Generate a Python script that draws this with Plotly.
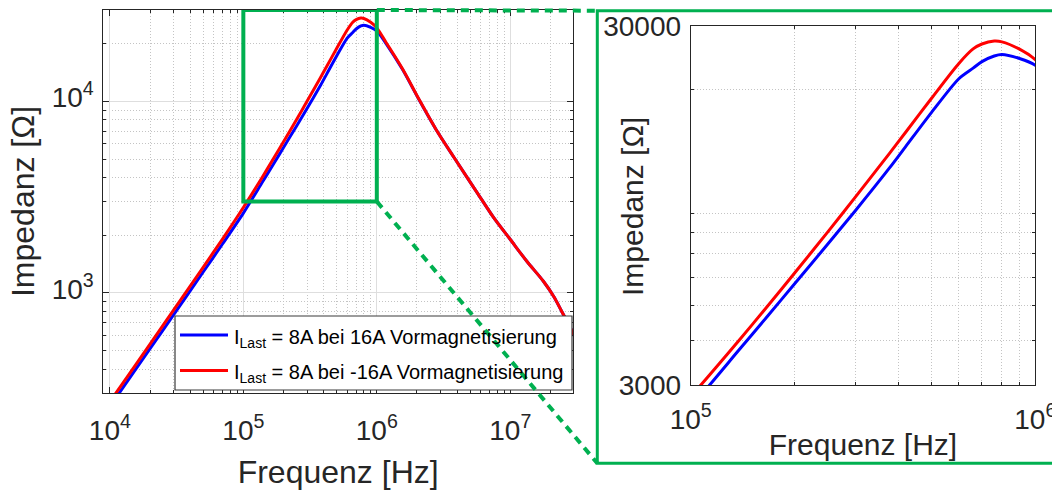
import math
import plotly.graph_objects as go

# ---------------- data ----------------
freq_hz = [1.0e4, 1.5e4, 2.0e4, 3.0e4, 5.0e4, 7.0e4, 1.0e5, 1.39e5, 1.67e5, 2.0e5,
           2.5e5, 3.0e5, 3.78e5, 4.2e5, 5.0e5, 6.0e5, 6.6e5, 7.0e5, 7.6e5, 8.0e5,
           9.0e5, 1.0e6, 1.17e6, 1.56e6, 2.08e6, 2.77e6, 3.79e6, 5.64e6, 7.51e6,
           1.0e7, 1.33e7, 1.77e7, 2.11e7, 2.43e7, 2.95e7, 3.2e7]

# I_Last = 8A bei 16A Vormagnetisierung (blue)
z_plus16 = [255, 383, 511, 768, 1285, 1805, 2610, 3790, 4670, 5740,
            7420, 9170, 12100, 13830, 17250, 21400, 22900, 23880, 24760, 25000,
            24360, 23330, 20100, 14650, 10150, 7150, 5090, 3340, 2470,
            1900, 1462, 1150, 960, 800, 617, 540]

# I_Last = 8A bei -16A Vormagnetisierung (red)
z_minus16 = [270, 405, 540, 812, 1360, 1915, 2790, 4030, 4980, 6150,
             8020, 10000, 13290, 15160, 18880, 23600, 25900, 26730, 27230, 27100,
             25870, 24200, 20370, 14760, 10190, 7160, 5090, 3340, 2470,
             1900, 1462, 1150, 960, 800, 617, 540]

series_names = ["I<sub>Last</sub> = 8A bei 16A Vormagnetisierung",
                "I<sub>Last</sub> = 8A bei -16A Vormagnetisierung"]
series_values = [z_plus16, z_minus16]
series_colors = ["#0000FF", "#FF0000"]

main_xticks = [1e4, 1e5, 1e6, 1e7]
main_xticktext = ["10<sup>4</sup>", "10<sup>5</sup>", "10<sup>6</sup>", "10<sup>7</sup>"]
main_yticks = [1e3, 1e4]
main_yticktext = ["10<sup>3</sup>", "10<sup>4</sup>"]
main_xlim = [8.93e3, 2.95e7]
main_ylim = [300, 30000]

zoom_x = [1e5, 1e6]
zoom_y = [3000, 30000]
inset_xticktext = ["10<sup>5</sup>", "10<sup>6</sup>"]
inset_yticktext = ["3000", "30000"]

x_title = "Frequenz [Hz]"
y_title = "Impedanz [Ω]"

# ---------------- layout geometry ----------------
W, H = 1052, 490
FONT = "Liberation Sans, Arial, Helvetica, sans-serif"
TXT = "#262626"
GREEN = "#00B050"

def px_x(p):
    return p / W

def px_y(p):
    return 1 - p / H

main_xdom = [px_x(103.3), px_x(573)]
main_ydom = [px_y(393), px_y(10)]
inset_xdom = [px_x(690.7), px_x(1035.3)]
inset_ydom = [px_y(385.3), px_y(26)]

main_xr = [math.log10(v) for v in main_xlim]
main_yr = [math.log10(v) for v in main_ylim]
inset_xr = [math.log10(v) for v in zoom_x]
inset_yr = [math.log10(v) for v in zoom_y]


def minor_vals(lo_exp, hi_exp):
    return [k * 10 ** e for e in range(lo_exp, hi_exp + 1) for k in range(2, 10)]


def axis(dom, rng, tickvals, ticktext, minor, anchor, tickfont=28, title=None,
         tfont=32, standoff=10, lstandoff=0, lshift=0):
    d = dict(type="log", domain=dom, range=rng, tickvals=tickvals, ticktext=ticktext,
             tickmode="array", ticks="inside", ticklen=6, tickwidth=1, tickcolor=TXT,
             showline=True, linecolor=TXT, linewidth=1, mirror="ticks",
             showgrid=True, gridcolor="#dedede", gridwidth=1, zeroline=False,
             tickfont=dict(size=tickfont, color=TXT, family=FONT), anchor=anchor,
             automargin=False, fixedrange=True, ticklabeloverflow="allow",
             ticklabelstandoff=lstandoff, ticklabelshift=lshift,
             minor=dict(tickmode="array", tickvals=minor, ticks="inside", ticklen=3,
                        tickcolor=TXT, showgrid=True, gridcolor="#c4c4c4",
                        griddash="1px,2px", gridwidth=1))
    if title:
        d["title"] = dict(text=title, font=dict(size=tfont, color=TXT, family=FONT),
                          standoff=standoff)
    return d


fig = go.Figure()
for name, vals, col in zip(series_names, series_values, series_colors):
    for xa, ya in (("x", "y"), ("x2", "y2")):
        fig.add_trace(go.Scatter(x=freq_hz, y=vals, mode="lines", name=name,
                                 line=dict(color=col, width=3, shape="spline", smoothing=0.8),
                                 xaxis=xa, yaxis=ya, showlegend=False, hoverinfo="skip"))

# ---------------- custom legend + zoom decoration ----------------
def main_to_paper(xv, yv):
    fx = (math.log10(xv) - main_xr[0]) / (main_xr[1] - main_xr[0])
    fy = (math.log10(yv) - main_yr[0]) / (main_yr[1] - main_yr[0])
    return (main_xdom[0] + fx * (main_xdom[1] - main_xdom[0]),
            main_ydom[0] + fy * (main_ydom[1] - main_ydom[0]))

shapes = []
shapes.append(dict(type="rect", xref="paper", yref="paper", x0=px_x(175), x1=px_x(572),
                   y0=px_y(390), y1=px_y(316), fillcolor="white",
                   line=dict(color="#3a3a3a", width=1.2), layer="above"))
legend_rows = [335, 370.5]
for row, col in zip(legend_rows, series_colors):
    shapes.append(dict(type="line", xref="paper", yref="paper", x0=px_x(180), x1=px_x(228),
                       y0=px_y(row), y1=px_y(row), line=dict(color=col, width=3), layer="above"))

shapes.append(dict(type="rect", xref="x", yref="y", x0=zoom_x[0], x1=zoom_x[1],
                   y0=zoom_y[0], y1=zoom_y[1], line=dict(color=GREEN, width=4), layer="above"))

inset_box = dict(x0=px_x(597.3), x1=1.01, y0=px_y(463.3), y1=px_y(10.7))
tr = main_to_paper(zoom_x[1], zoom_y[1])
br = main_to_paper(zoom_x[1], zoom_y[0])
shapes.append(dict(type="line", xref="paper", yref="paper", x0=tr[0], y0=tr[1],
                   x1=inset_box["x0"], y1=inset_box["y1"],
                   line=dict(color=GREEN, width=4, dash="8px,6px"), layer="above"))
shapes.append(dict(type="line", xref="paper", yref="paper", x0=br[0], y0=br[1],
                   x1=inset_box["x0"], y1=inset_box["y0"],
                   line=dict(color=GREEN, width=4, dash="8px,6px"), layer="above"))
shapes.append(dict(type="rect", xref="paper", yref="paper", **inset_box,
                   line=dict(color=GREEN, width=3), layer="above"))

annotations = []
for row, name in zip(legend_rows, series_names):
    annotations.append(dict(text=name, xref="paper", yref="paper", x=px_x(232), y=px_y(row + 3),
                            xanchor="left", yanchor="middle", showarrow=False,
                            font=dict(size=20, color="#000000", family=FONT)))
annotations.append(dict(text=y_title, xref="paper", yref="paper", x=px_x(633), y=px_y(207),
                        xanchor="center", yanchor="middle", textangle=-90, showarrow=False,
                        font=dict(size=30, color=TXT, family=FONT)))

fig.update_layout(
    width=W, height=H, autosize=False, template="none",
    margin=dict(l=0, r=0, t=0, b=0, pad=0),
    paper_bgcolor="white", plot_bgcolor="white",
    font=dict(family=FONT, color=TXT),
    xaxis=axis(main_xdom, main_xr, main_xticks, main_xticktext, minor_vals(3, 7), "y",
               title=x_title, tfont=32, standoff=16, lstandoff=12),
    yaxis=axis(main_ydom, main_yr, main_yticks, main_yticktext, minor_vals(2, 4), "x",
               title=y_title, tfont=32, standoff=7, lstandoff=3, lshift=-4),
    xaxis2=axis(inset_xdom, inset_xr, zoom_x, inset_xticktext, minor_vals(5, 5), "y2",
                title=x_title, tfont=30, standoff=0, lstandoff=9),
    yaxis2=axis(inset_ydom, inset_yr, zoom_y, inset_yticktext, minor_vals(3, 4), "x2",
                lstandoff=3),
    shapes=shapes, annotations=annotations, showlegend=False,
)

fig.write_html("out.html", config={"displayModeBar": False},
               post_script="document.body.style.margin='0px';document.body.style.overflow='hidden';")
